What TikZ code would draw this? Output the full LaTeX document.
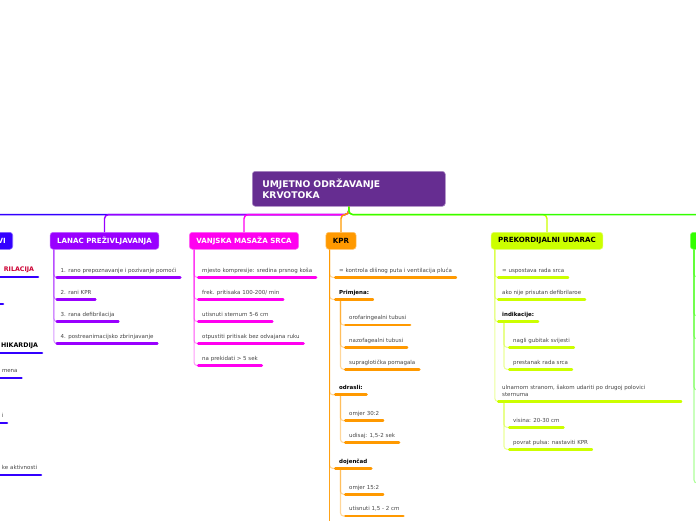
\documentclass[tikz,border=0pt]{standalone}
\usepackage{fontspec}
\setmainfont{DejaVu Sans}
\definecolor{rootc}{RGB}{102,45,145}
\definecolor{bluec}{RGB}{51,0,255}
\definecolor{purpc}{RGB}{153,0,255}
\definecolor{magc}{RGB}{255,0,240}
\definecolor{orc}{RGB}{255,153,0}
\definecolor{ylc}{RGB}{204,255,0}
\definecolor{grc}{RGB}{51,255,0}
\definecolor{txtc}{RGB}{68,68,68}
\definecolor{redc}{RGB}{204,0,51}

\begin{document}
\begin{tikzpicture}[x=1pt,y=-1pt,
    root/.style={fill=rootc, draw=rootc!55!white, line width=0.6pt, rounded corners=3pt, text=white,
      font=\bfseries\fontsize{9.2}{11}\selectfont, align=left, text width=173pt, inner xsep=10pt,
      minimum height=35pt, anchor=north west},
    branch/.style={fill=#1, draw=#1!60!white, line width=0.6pt, rounded corners=3pt,
      font=\bfseries\fontsize{7.1}{8}\selectfont, minimum height=17pt, inner xsep=7pt, inner ysep=0pt, anchor=north},
    trunk/.style={draw=#1, line width=1.4pt, rounded corners=4pt},
    con/.style={draw=#1, draw opacity=0.4, line width=1.1pt, rounded corners=3pt},
    item/.style={font=\fontsize{5.5}{6.5}\selectfont, text=txtc, inner xsep=5pt, inner ysep=5pt,
      text depth=0pt, anchor=south west},
    head/.style={item, text=black, font=\bfseries\fontsize{5.5}{6.5}\selectfont},
    bighead/.style={head, font=\bfseries\fontsize{6.3}{7.5}\selectfont},
    redhead/.style={bighead, text=redc},
    wrapitem/.style={item, text width=175pt, align=left, text depth=6.5pt},
    ul/.style={draw=#1, line width=2.6pt, line cap=round, shorten <=1.3pt, shorten >=1.3pt},
  ]
\useasboundingbox (0,0) rectangle (696,520);

% root and branches
\node[root] (root) at (252,171) {UMJETNO ODRŽAVANJE\\KRVOTOKA};
\node[branch=bluec, text=white, anchor=north east, text width=86pt, align=right] (ritmovi) at (13,232) {VI};
\node[branch=purpc, text=white] (lanac) at (104.5,232) {LANAC PREŽIVLJAVANJA};
\node[branch=magc, text=white] (masaza) at (244,232) {VANJSKA MASAŽA SRCA};
\node[branch=orc] (kpr) at (341,232) {KPR};
\node[branch=ylc] (udarac) at (547,232) {PREKORDIJALNI UDARAC};
\node[branch=grc, anchor=north west, minimum width=40pt] (zeleno) at (690,232) {};

\draw[trunk=bluec] (root.south) -- ++(0,8) -| (ritmovi.north);
\draw[trunk=purpc] (root.south) -- ++(0,8) -| (lanac.north);
\draw[trunk=magc] (root.south) -- ++(0,8) -| (masaza.north);
\draw[trunk=orc] (root.south) -- ++(0,8) -| (kpr.north);
\draw[trunk=ylc] (root.south) -- ++(0,8) -| (udarac.north);
\draw[trunk=grc] (root.south) -- ++(0,8) -| (zeleno.north);

% blue branch (cut at the left edge)
\foreach \n/\x/\y/\s/\t in {1/38/277/redhead/RILACIJA, 2/3/304/item/{}, 3/42/353/bighead/HIKARDIJA,
    4/21.5/378/item/mena, 5/7/423/item/i, 6/41/475/item/ke aktivnosti}
{
  \node[\s, anchor=south east, text width=60pt, align=right] (ritmovi\n) at (\x+1.3,\y) {\t};
  \draw[ul=bluec] (ritmovi\n.south west) -- (ritmovi\n.south east);
}

% lanac prezivljavanja
\foreach \n/\y/\t in {1/277.3/{1. rano prepoznavanje i pozivanje pomoći}, 2/299.3/{2. rani KPR},
    3/321.5/{3. rana defibrilacija}, 4/343.5/{4. postreanimacijsko zbrinjavanje}}
{
  \node[item] (lanac\n) at (55.5,\y) {\t};
  \draw[ul=purpc] (lanac\n.south west) -- (lanac\n.south east);
  \draw[con=purpc] ([xshift=4pt]lanac.south west) |- (lanac\n.south west);
}

% vanjska masaza srca
\foreach \n/\y/\t in {1/277.3/{mjesto kompresije: sredina prsnog koša}, 2/299.3/{frek. pritisaka 100-200/ min},
    3/321.5/{utisnuti sternum 5-6 cm}, 4/343.5/{otpustiti pritisak bez odvajana ruku}, 5/365.5/{na prekidati > 5 sek}}
{
  \node[item] (masaza\n) at (197,\y) {\t};
  \draw[ul=magc] (masaza\n.south west) -- (masaza\n.south east);
  \draw[con=magc] ([xshift=5pt]masaza.south west) |- (masaza\n.south west);
}

% KPR
\foreach \n/\y/\s/\t in {1/277.3/item/{= kontrola dišnog puta i ventilacija pluća}, 2/299.3/head/{Primjena:},
    3/394.7/head/{odrasli:}, 4/468.3/head/{dojenčad}}
{
  \node[\s] (kpr\n) at (334,\y) {\t};
  \draw[ul=orc] (kpr\n.south west) -- (kpr\n.south east);
  \draw[con=orc] ([xshift=4pt]kpr.south west) |- (kpr\n.south west);
}
\foreach \p/\n/\y/\t in {2/1/325/{orofaringealni tubusi}, 2/2/347.3/{nazofagealni tubusi}, 2/3/369.3/{supraglotička pomagala},
    3/1/420.7/{omjer 30:2}, 3/2/442.5/{udisaj: 1,5-2 sek}, 4/1/494.3/{omjer 15:2}, 4/2/516/{utisnuti 1,5 - 2 cm}}
{
  \node[item] (kpr\p\n) at (344,\y) {\t};
  \draw[ul=orc] (kpr\p\n.south west) -- (kpr\p\n.south east);
  \draw[con=orc] ([xshift=6.5pt]kpr\p.south west) |- (kpr\p\n.south west);
}
\coordinate (kprdalje) at ([xshift=4pt]kpr.south west |- 0,540);
\draw[con=orc, draw opacity=0.9, line width=1.6pt] ([xshift=4pt]kpr.south west) -- (kprdalje);

% prekordijalni udarac
\foreach \n/\y/\s/\t in {1/277.3/item/{= uspostava rada srca}, 2/299.3/item/{ako nije prisutan defibrilaroe},
    3/321.7/head/{indikacije:}, 4/401.3/wrapitem/{ulnarnom stranom, šakom udariti po drugoj polovici\\sternuma}}
{
  \node[\s] (udarac\n) at (497,\y) {\t};
  \draw[ul=ylc] (udarac\n.south west) -- (udarac\n.south east);
  \draw[con=ylc] ([xshift=4pt]udarac.south west) |- (udarac\n.south west);
}
\foreach \p/\n/\y/\t in {3/1/347.3/{nagli gubitak svijesti}, 3/2/369.3/{prestanak rada srca},
    4/1/427.3/{visina: 20-30 cm}, 4/2/449.3/{povrat pulsa: nastaviti KPR}}
{
  \node[item] (udarac\p\n) at (508,\y) {\t};
  \draw[ul=ylc] (udarac\p\n.south west) -- (udarac\p\n.south east);
  \draw[con=ylc] ([xshift=7pt]udarac\p.south west) |- (udarac\p\n.south west);
}

% green branch (cut at the right edge)
\foreach \n/\y in {1/277,2/316,3/339,4/390,5/483}
{
  \coordinate (zeleno\n) at (706,\y);
  \draw[con=grc] ([xshift=4pt]zeleno.south west) |- (zeleno\n);
}
\end{tikzpicture}
\end{document}
